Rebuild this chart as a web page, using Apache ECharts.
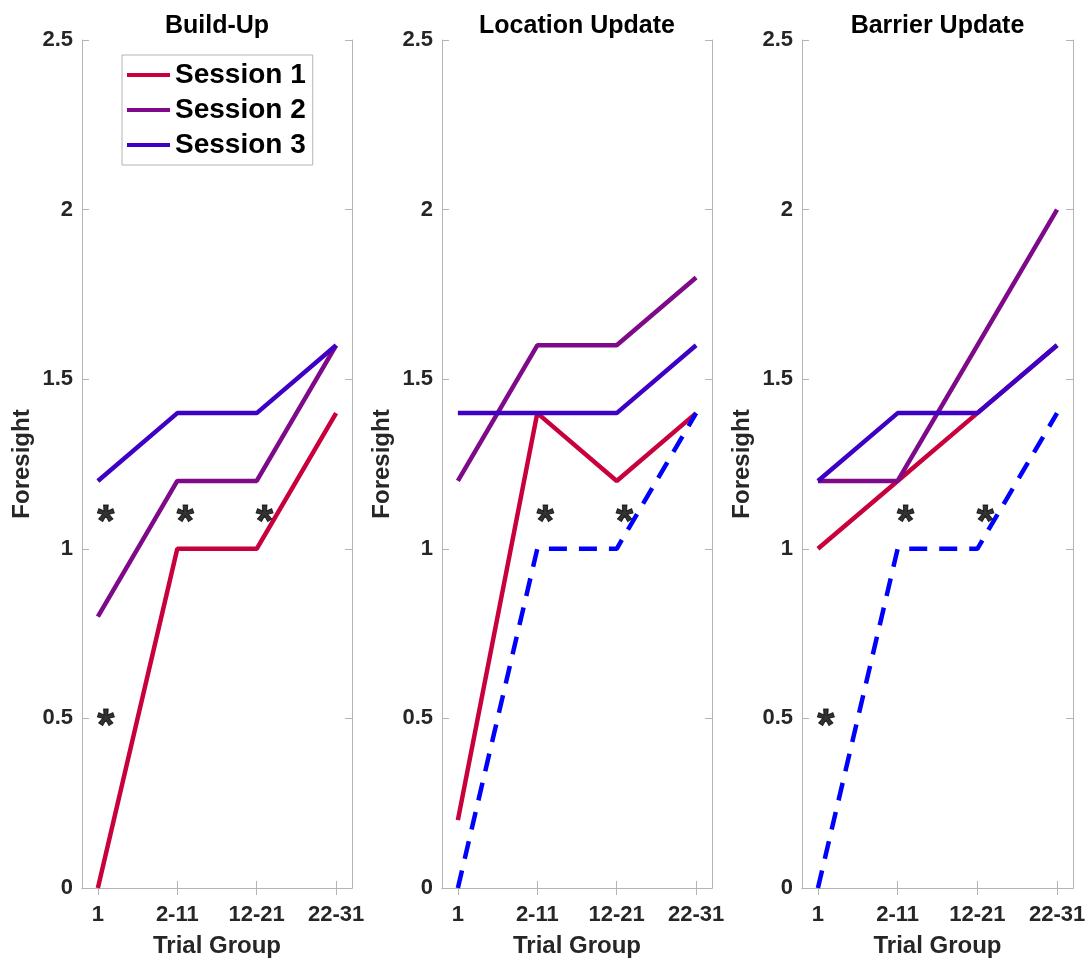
<!DOCTYPE html>
<html>
<head>
<meta charset="utf-8">
<script src="https://cdn.jsdelivr.net/npm/echarts@6/dist/echarts.min.js"></script>
<style>
html,body{margin:0;padding:0;background:#fff;}
#chart{width:1092px;height:963px;}
</style>
</head>
<body>
<div id="chart"></div>
<script>
// ---------- data ----------
const categories = ['1', '2-11', '12-21', '22-31'];
const panelTitles = ['Build-Up', 'Location Update', 'Barrier Update'];
const seriesNames = ['Session 1', 'Session 2', 'Session 3'];

// Build-Up
const buildUpS1 = [0, 1.0, 1.0, 1.4];
const buildUpS2 = [0.8, 1.2, 1.2, 1.6];
const buildUpS3 = [1.2, 1.4, 1.4, 1.6];
const buildUpDash = null;
const buildUpStarX = [1.1, 2.1, 3.1, 1.1];
const buildUpStarY = [1.1, 1.1, 1.1, 0.5];

// Location Update
const locationS1 = [0.2, 1.4, 1.2, 1.4];
const locationS2 = [1.2, 1.6, 1.6, 1.8];
const locationS3 = [1.4, 1.4, 1.4, 1.6];
const locationDash = [0, 1.0, 1.0, 1.4];
const locationStarX = [2.1, 3.1];
const locationStarY = [1.1, 1.1];

// Barrier Update
const barrierS1 = [1.0, 1.2, 1.4, 1.6];
const barrierS2 = [1.2, 1.2, 1.6, 2.0];
const barrierS3 = [1.2, 1.4, 1.4, 1.6];
const barrierDash = [0, 1.0, 1.0, 1.4];
const barrierStarX = [2.1, 3.1, 1.1];
const barrierStarY = [1.1, 1.1, 0.5];

// ---------- styling ----------
const colors = ['#c8003c', '#7e0a8a', '#3e00c4'];
const dashColor = '#0000ff';
const axisGray = '#b4b4b4';
const textDark = '#262626';
const FONT = '"Liberation Sans", Arial, Helvetica, sans-serif';

const panels = [
  {title: panelTitles[0], s: [buildUpS1, buildUpS2, buildUpS3], dash: buildUpDash, sx: buildUpStarX, sy: buildUpStarY, left: 82, width: 270},
  {title: panelTitles[1], s: [locationS1, locationS2, locationS3], dash: locationDash, sx: locationStarX, sy: locationStarY, left: 442, width: 270},
  {title: panelTitles[2], s: [barrierS1, barrierS2, barrierS3], dash: barrierDash, sx: barrierStarX, sy: barrierStarY, left: 802, width: 271}
];
const gridTop = 40, gridHeight = 854;

const toPoints = vals => vals.map((v, i) => [i + 1, v]);
const catPositions = categories.map((c, i) => i + 1);

const option = {
  animation: false,
  backgroundColor: '#ffffff',
  title: [],
  grid: [],
  xAxis: [],
  yAxis: [],
  series: [],
  legend: {
    data: seriesNames,
    orient: 'vertical',
    left: 122,
    top: 55,
    icon: 'rect',
    itemWidth: 43,
    itemHeight: 4,
    itemGap: 7,
    padding: [6, 7, 6, 5],
    backgroundColor: '#ffffff',
    borderColor: axisGray,
    borderWidth: 1,
    borderRadius: 0,
    selectedMode: false,
    textStyle: {fontFamily: FONT, fontSize: 28, fontWeight: 'bold', color: '#000000', padding: [0, 0, 0, 0]}
  }
};

panels.forEach((p, gi) => {
  option.title.push({
    text: p.title,
    left: p.left + p.width / 2 - 5,
    top: 9,
    textAlign: 'center',
    textStyle: {fontFamily: FONT, fontSize: 25, fontWeight: 'bold', color: '#000000'}
  });
  option.grid.push({left: p.left, top: gridTop, width: p.width, height: gridHeight, containLabel: false});

  const xCommon = {
    type: 'value', gridIndex: gi, min: 0.8, max: 4.2,
    axisLine: {show: true, lineStyle: {color: axisGray, width: 1}},
    splitLine: {show: false}
  };
  option.xAxis.push(Object.assign({}, xCommon, {
    position: 'bottom',
    name: 'Trial Group', nameLocation: 'middle', nameGap: 46,
    nameTextStyle: {fontFamily: FONT, fontSize: 24, fontWeight: 'bold', color: textDark},
    axisTick: {show: true, inside: true, length: 7, customValues: catPositions, lineStyle: {color: axisGray}},
    axisLabel: {show: true, customValues: catPositions, margin: 16, fontFamily: FONT, fontSize: 22, fontWeight: 'bold', color: textDark,
      formatter: v => categories[Math.round(v) - 1] || ''}
  }));
  option.xAxis.push(Object.assign({}, xCommon, {
    position: 'top',
    axisTick: {show: true, inside: true, length: 7, customValues: catPositions, lineStyle: {color: axisGray}},
    axisLabel: {show: false}
  }));

  const yCommon = {
    type: 'value', gridIndex: gi, min: 0, max: 2.5, interval: 0.5,
    axisLine: {show: true, lineStyle: {color: axisGray, width: 1}},
    axisTick: {show: true, inside: true, length: 7, lineStyle: {color: axisGray}},
    splitLine: {show: false}
  };
  option.yAxis.push(Object.assign({}, yCommon, {
    position: 'left',
    name: 'Foresight', nameLocation: 'middle', nameGap: 48,
    nameTextStyle: {fontFamily: FONT, fontSize: 24, fontWeight: 'bold', color: textDark},
    axisLabel: {show: true, margin: 9, fontFamily: FONT, fontSize: 22, fontWeight: 'bold', color: textDark}
  }));
  option.yAxis.push(Object.assign({}, yCommon, {
    position: 'right',
    axisLabel: {show: false}
  }));

  const xi = gi * 2, yi = gi * 2;
  p.s.forEach((vals, si) => {
    option.series.push({
      type: 'line', name: seriesNames[si],
      xAxisIndex: xi, yAxisIndex: yi,
      data: toPoints(vals),
      showSymbol: false, symbol: 'none',
      lineStyle: {color: colors[si], width: 4.5},
      itemStyle: {color: colors[si]},
      z: 2 + si
    });
  });
  if (p.dash) {
    option.series.push({
      type: 'line', name: 'dash' + gi,
      xAxisIndex: xi, yAxisIndex: yi,
      data: toPoints(p.dash),
      showSymbol: false, symbol: 'none',
      lineStyle: {color: dashColor, width: 4.5, type: [18, 12]},
      z: 6
    });
  }
  option.series.push({
    type: 'scatter', name: 'stars' + gi,
    xAxisIndex: xi, yAxisIndex: yi,
    data: p.sx.map((x, i) => [x, p.sy[i]]),
    symbol: 'circle',
    symbolSize: 2,
    itemStyle: {color: 'rgba(0,0,0,0)'},
    label: {show: true, position: 'inside', formatter: '*', fontFamily: FONT, fontSize: 44, fontWeight: 'bold',
      color: '#000000', textBorderColor: '#000000', textBorderWidth: 1, offset: [0, 9]},
    z: 7
  });
});

const chart = echarts.init(document.getElementById('chart'), null, {renderer: 'canvas'});
chart.setOption(option);
</script>
</body>
</html>
